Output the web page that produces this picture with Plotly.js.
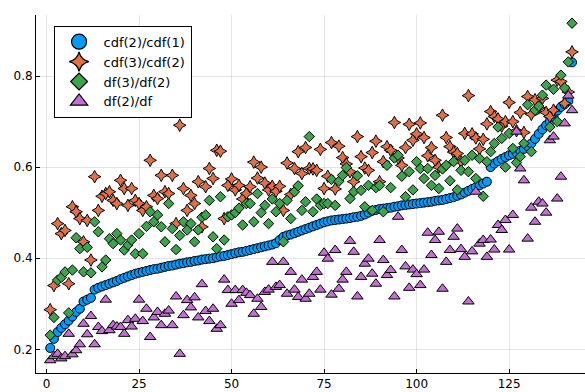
<!DOCTYPE html>
<html>
<head>
<meta charset="utf-8">
<script src="https://cdn.plot.ly/plotly-3.0.1.min.js"></script>
<style>html,body{margin:0;padding:0;background:#fff;}#chart{width:585px;height:392px;}</style>
</head>
<body>
<div id="chart"></div>
<script>
// Series names
const seriesNames = ["cdf(2)/cdf(1)", "cdf(3)/cdf(2)", "df(3)/df(2)", "df(2)/df"];

// cdf(2)/cdf(1)
const cdfRatio21 = [
 0.203,0.223,0.238,0.247,0.255,0.263,0.272,0.282,0.289,0.305,
 0.309,0.313,0.331,0.335,0.338,0.341,0.344,0.347,0.350,0.354,
 0.357,0.360,0.363,0.366,0.368,0.370,0.372,0.374,0.376,0.377,
 0.379,0.381,0.383,0.384,0.386,0.388,0.389,0.391,0.392,0.394,
 0.395,0.397,0.398,0.399,0.400,0.402,0.404,0.405,0.407,0.409,
 0.411,0.413,0.414,0.416,0.418,0.420,0.422,0.424,0.426,0.428,
 0.430,0.433,0.440,0.447,0.450,0.452,0.455,0.458,0.461,0.464,
 0.467,0.470,0.473,0.476,0.479,0.481,0.483,0.484,0.485,0.486,
 0.487,0.488,0.490,0.491,0.493,0.496,0.500,0.504,0.506,0.508,
 0.509,0.510,0.511,0.513,0.514,0.516,0.517,0.518,0.519,0.520,
 0.521,0.522,0.523,0.524,0.526,0.527,0.528,0.530,0.532,0.534,
 0.537,0.540,0.544,0.548,0.552,0.556,0.560,0.564,0.568,0.600,
 0.608,0.613,0.618,0.622,0.626,0.629,0.632,0.636,0.640,0.646,
 0.652,0.662,0.673,0.683,0.692,0.700,0.710,0.724,0.732,0.738,
 0.745,0.830];

// cdf(3)/cdf(2)
const cdfRatio32 = [
 0.287,0.340,0.476,0.454,0.461,0.344,0.513,0.502,0.487,0.436,
 0.483,0.396,0.579,0.505,0.536,0.542,0.546,0.527,0.520,0.571,
 0.553,0.516,0.553,0.527,0.520,0.505,0.513,0.615,0.538,0.531,
 0.582,0.546,0.542,0.582,0.476,0.692,0.553,0.505,0.538,0.520,
 0.568,0.469,0.557,0.597,0.575,0.637,0.635,0.487,0.560,0.574,
 0.550,0.560,0.530,0.542,0.557,0.611,0.576,0.600,0.565,0.550,
 0.558,0.547,0.558,0.505,0.609,0.540,0.597,0.634,0.586,0.643,
 0.597,0.596,0.593,0.639,0.553,0.580,0.654,0.552,0.646,0.621,
 0.607,0.590,0.568,0.667,0.623,0.598,0.593,0.632,0.657,0.568,
 0.612,0.645,0.637,0.698,0.620,0.604,0.643,0.694,0.659,0.673,
 0.697,0.665,0.625,0.643,0.615,0.600,0.714,0.665,0.645,0.633,
 0.630,0.612,0.674,0.757,0.673,0.664,0.640,0.661,0.695,0.722,
 0.711,0.706,0.690,0.700,0.742,0.700,0.680,0.720,0.676,0.755,
 0.716,0.748,0.730,0.751,0.720,0.711,0.725,0.791,0.788,0.740,
 0.765,0.853];

// df(3)/df(2)
const dfRatio32 = [
 0.231,0.270,0.352,0.358,0.370,0.280,0.374,0.445,0.421,0.370,
 0.424,0.368,0.480,0.458,0.381,0.396,0.443,0.432,0.454,0.440,
 0.418,0.429,0.440,0.410,0.454,0.410,0.470,0.502,0.480,0.495,
 0.469,0.436,0.520,0.465,0.419,0.450,0.480,0.462,0.476,0.436,
 0.462,0.490,0.495,0.527,0.447,0.421,0.535,0.440,0.491,0.495,
 0.500,0.510,0.473,0.520,0.520,0.480,0.542,0.500,0.516,0.476,
 0.530,0.502,0.520,0.436,0.527,0.487,0.546,0.559,0.505,0.524,
 0.667,0.502,0.530,0.516,0.520,0.520,0.573,0.516,0.569,0.582,
 0.599,0.531,0.546,0.581,0.549,0.513,0.560,0.505,0.555,0.560,
 0.502,0.604,0.555,0.620,0.626,0.580,0.535,0.590,0.550,0.612,
 0.597,0.575,0.597,0.560,0.582,0.553,0.596,0.604,0.570,0.612,
 0.550,0.593,0.615,0.590,0.626,0.575,0.619,0.536,0.612,0.634,
 0.652,0.688,0.663,0.600,0.674,0.641,0.610,0.623,0.652,0.737,
 0.634,0.725,0.734,0.758,0.780,0.688,0.771,0.700,0.802,0.774,
 0.831,0.916];

// df(2)/df
const dfRatio2 = [
 0.176,0.185,0.190,0.180,0.185,0.234,0.189,0.198,0.211,0.256,
 0.233,0.273,0.211,0.249,0.240,0.309,0.242,0.253,0.250,0.249,
 0.234,0.264,0.250,0.267,0.309,0.262,0.289,0.227,0.270,0.282,
 0.253,0.278,0.285,0.253,0.316,0.190,0.275,0.308,0.292,0.314,
 0.270,0.343,0.284,0.262,0.289,0.245,0.253,0.353,0.330,0.300,
 0.330,0.308,0.330,0.324,0.319,0.278,0.311,0.293,0.326,0.331,
 0.392,0.337,0.341,0.392,0.322,0.370,0.331,0.315,0.353,0.311,
 0.322,0.359,0.370,0.331,0.412,0.399,0.320,0.418,0.333,0.353,
 0.370,0.438,0.414,0.316,0.359,0.388,0.399,0.366,0.344,0.440,
 0.396,0.363,0.374,0.316,0.491,0.418,0.382,0.335,0.375,0.365,
 0.341,0.375,0.456,0.407,0.440,0.458,0.333,0.392,0.418,0.447,
 0.465,0.420,0.403,0.305,0.415,0.546,0.432,0.440,0.403,0.441,
 0.419,0.473,0.462,0.484,0.419,0.495,0.678,0.597,0.571,0.443,
 0.511,0.480,0.524,0.520,0.500,0.659,0.667,0.531,0.579,0.696,
 0.757,0.725];

const xTickVals = [0, 25, 50, 75, 100, 125];
const yTickVals = [0.2, 0.4, 0.6, 0.8];
const yTickText = ["0.2", "0.4", "0.6", "0.8"];

const xIndex = cdfRatio21.map((_, i) => i + 1);

const styles = [
  {symbol: "circle", color: "#009AFA", size: 9, legendSize: 15},
  {symbol: "star-diamond", color: "#E26F46", size: 9, legendSize: 14},
  {symbol: "diamond", color: "#3DA44D", size: 8, legendSize: 13},
  {symbol: "triangle-up", color: "#C271D2", size: 10, legendSize: 15}
];
const allSeries = [cdfRatio21, cdfRatio32, dfRatio32, dfRatio2];

const traces = allSeries.map((ys, k) => ({
  type: "scatter",
  mode: "markers",
  x: xIndex,
  y: ys,
  name: seriesNames[k],
  legendgroup: "g" + k,
  showlegend: false,
  marker: {
    symbol: styles[k].symbol,
    color: styles[k].color,
    size: styles[k].size,
    line: {color: "#000", width: 1}
  }
}));
// legend entries with larger symbols (no data points drawn)
const legendTraces = allSeries.map((ys, k) => ({
  type: "scatter",
  mode: "markers",
  x: [null],
  y: [null],
  name: seriesNames[k],
  legendgroup: "g" + k,
  showlegend: true,
  marker: {
    symbol: styles[k].symbol,
    color: styles[k].color,
    size: styles[k].legendSize,
    line: {color: "#000", width: 1.2}
  }
}));

const layout = {
  width: 585,
  height: 392,
  margin: {l: 36, r: 0, t: 15, b: 19, pad: 0},
  paper_bgcolor: "#fff",
  plot_bgcolor: "#fff",
  font: {family: "DejaVu Sans", size: 12, color: "#000"},
  showlegend: true,
  legend: {
    x: 0.032, y: 0.97, xanchor: "left", yanchor: "top",
    bgcolor: "#fff", bordercolor: "#000", borderwidth: 1,
    itemwidth: 39, tracegroupgap: 0,
    font: {family: "DejaVu Sans", size: 13, color: "#000"}
  },
  xaxis: {
    range: [-2.84, 145.5],
    tickvals: xTickVals,
    ticks: "inside", ticklen: 4, tickcolor: "#000",
    showline: true, linecolor: "#000", linewidth: 1, mirror: false,
    showgrid: true, gridcolor: "rgba(0,0,0,0.1)", gridwidth: 1,
    zeroline: false,
    tickfont: {family: "DejaVu Sans", size: 12}
  },
  yaxis: {
    range: [0.148, 0.934],
    tickvals: yTickVals, ticktext: yTickText,
    ticks: "inside", ticklen: 4, tickcolor: "#000",
    showline: true, linecolor: "#000", linewidth: 1, mirror: false,
    showgrid: true, gridcolor: "rgba(0,0,0,0.1)", gridwidth: 1,
    zeroline: false,
    tickfont: {family: "DejaVu Sans", size: 12}
  }
};

Plotly.newPlot("chart", traces.concat(legendTraces), layout, {staticPlot: true, displayModeBar: false});
</script>
</body>
</html>
